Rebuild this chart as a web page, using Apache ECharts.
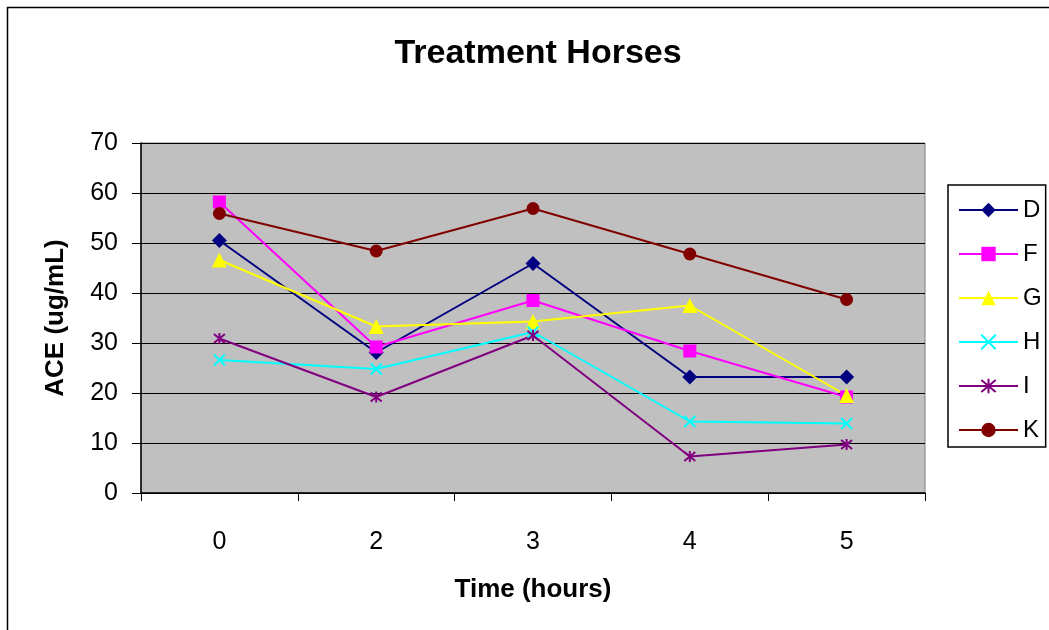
<!DOCTYPE html>
<html>
<head>
<meta charset="utf-8">
<title>Treatment Horses</title>
<script src="https://cdn.jsdelivr.net/npm/echarts@6/dist/echarts.min.js"></script>
<style>
  html, body { margin: 0; padding: 0; background: #ffffff; }
  #chart { width: 1049px; height: 630px; }
</style>
</head>
<body>
<div id="chart"></div>
<script>
// Sampling times (hours)
const times = ['0', '2', '3', '4', '5'];

// ACE concentration (ug/mL) per horse
const horseD = [50.5, 28.1, 45.9, 23.2, 23.2];
const horseF = [58.2, 29.2, 38.5, 28.4, 19.2];
const horseG = [46.6, 33.3, 34.3, 37.5, 19.5];
const horseH = [26.6, 24.8, 32.2, 14.3, 13.9];
const horseI = [30.9, 19.2, 31.5, 7.3, 9.7];
const horseK = [55.9, 48.4, 56.9, 47.8, 38.7];

const yTicks = [0, 10, 20, 30, 40, 50, 60, 70];

const FONT = '"Liberation Sans", Arial, Helvetica, sans-serif';

// Stroke-only marker shapes
const crossPath = 'path://M0,0L10,10M10,0L0,10';
const starPath = 'path://M0,0L10,10M10,0L0,10M5,-1L5,11';

function lineSeries(name, data, color, symbol, size, strokeMarker) {
  return {
    name: name,
    type: 'line',
    data: data,
    symbol: symbol,
    symbolSize: size,
    showAllSymbol: true,
    lineStyle: { color: color, width: 2 },
    itemStyle: strokeMarker
      ? { color: color, borderColor: color, borderWidth: 2 }
      : { color: color, borderWidth: 0 },
    emphasis: { disabled: true },
    animation: false
  };
}

const chart = echarts.init(document.getElementById('chart'), null, { renderer: 'canvas' });

chart.setOption({
  backgroundColor: '#ffffff',
  textStyle: { fontFamily: FONT },
  title: {
    text: 'Treatment Horses',
    left: 533,
    top: 32,
    textAlign: 'center',
    textStyle: { fontFamily: FONT, fontSize: 34, fontWeight: 'bold', color: '#000' }
  },
  graphic: [{
    type: 'rect',
    shape: { x: 7.5, y: 7.5, width: 1200, height: 800 },
    style: { fill: 'none', stroke: '#000', lineWidth: 1.5 },
    silent: true,
    z: -1
  }],
  legend: {
    orient: 'vertical',
    left: 948,
    top: 185,
    padding: [13, 4, 5, 10],
    itemWidth: 59,
    itemHeight: 18,
    itemGap: 20,
    backgroundColor: '#ffffff',
    borderColor: '#000',
    borderWidth: 1.5,
    textStyle: { fontFamily: FONT, fontSize: 24, color: '#000', lineHeight: 24, padding: [0, 0, 0, 0] },
    data: ['D', 'F', 'G', 'H', 'I', 'K']
  },
  grid: {
    left: 141,
    right: 124,
    top: 143,
    bottom: 137,
    show: true,
    backgroundColor: '#C0C0C0',
    borderColor: '#808080',
    borderWidth: 1,
    containLabel: false
  },
  xAxis: {
    type: 'category',
    data: times,
    boundaryGap: true,
    name: 'Time (hours)',
    nameLocation: 'middle',
    nameGap: 84,
    nameTextStyle: { fontFamily: FONT, fontSize: 26, fontWeight: 'bold', color: '#000' },
    axisLine: { show: true, lineStyle: { color: '#000', width: 1.5 } },
    axisTick: { show: true, interval: 0, length: 8, lineStyle: { color: '#000', width: 1 } },
    axisLabel: { fontFamily: FONT, fontSize: 25, color: '#000', margin: 37 },
    splitLine: { show: false }
  },
  yAxis: {
    type: 'value',
    min: yTicks[0],
    max: yTicks[yTicks.length - 1],
    interval: 10,
    name: 'ACE (ug/mL)',
    nameLocation: 'middle',
    nameGap: 72,
    nameTextStyle: { fontFamily: FONT, fontSize: 26, fontWeight: 'bold', color: '#000' },
    axisLine: { show: true, lineStyle: { color: '#000', width: 1.5 } },
    axisTick: { show: true, length: 9, lineStyle: { color: '#000', width: 1 } },
    axisLabel: { fontFamily: FONT, fontSize: 25, color: '#000', margin: 23 },
    splitLine: { show: true, lineStyle: { color: '#000', width: 1 } }
  },
  series: [
    lineSeries('D', horseD, '#000080', 'diamond', 15, false),
    lineSeries('F', horseF, '#FF00FF', 'rect', 13, false),
    lineSeries('G', horseG, '#FFFF00', 'triangle', 15, false),
    lineSeries('H', horseH, '#00FFFF', crossPath, 11, true),
    lineSeries('I', horseI, '#800080', starPath, 11, true),
    lineSeries('K', horseK, '#800000', 'circle', 13, false)
  ]
});
</script>
</body>
</html>
